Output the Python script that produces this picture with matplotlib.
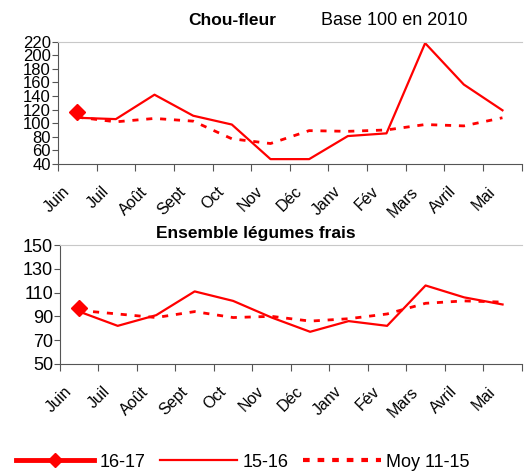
import matplotlib.pyplot as plt
import matplotlib.transforms as mtransforms
from matplotlib.lines import Line2D

plt.rcParams['font.family'] = ['Liberation Sans', 'DejaVu Sans']

months = ['Juin', 'Juil', 'Août', 'Sept', 'Oct', 'Nov', 'Déc', 'Janv', 'Fév', 'Mars', 'Avril', 'Mai']

# Chou-fleur
chou_1617 = [116]
chou_1516 = [108, 106, 142, 111, 98, 47, 47, 81, 85, 218, 157, 119]
chou_moy = [109, 102, 107, 103, 77, 70, 89, 88, 90, 98, 96, 108]

# Ensemble légumes frais
leg_1617 = [97]
leg_1516 = [94, 82, 91, 111, 103, 89, 77, 86, 82, 116, 106, 100]
leg_moy = [95, 92, 89, 94, 89, 90, 86, 88, 92, 101, 103, 102]

red = '#ff0000'
fig = plt.figure(figsize=(5.26, 4.75), dpi=100)


def draw(ax, v1617, v1516, vmoy, ylim, yticks, ysize):
    x = list(range(len(months)))
    ax.plot(x, vmoy, color=red, lw=2, ls=(0, (2.2, 2.8)))
    ax.plot(x, v1516, color=red, lw=1.6)
    ax.plot(x[:len(v1617)], v1617, color=red, lw=3, marker='D', ms=8)
    ax.set_xlim(-0.5, 11.5)
    ax.set_ylim(*ylim)
    ax.set_yticks(yticks)
    ax.set_xticks([i - 0.5 for i in range(13)])
    ax.set_xticklabels([])
    # month labels, a bit left of the category centre like the original
    off = mtransforms.ScaledTranslation(-15 / 100, -20 / 100, fig.dpi_scale_trans)
    for i, m in enumerate(months):
        ax.text(i, 0, m, transform=ax.get_xaxis_transform() + off,
                rotation=45, ha='right', va='top', rotation_mode='anchor',
                fontsize=11.5)
    ax.tick_params(axis='x', length=5, color='#555555')
    ax.tick_params(axis='y', length=4, color='#555555', labelsize=ysize, pad=1)
    ax.spines['right'].set_visible(False)
    ax.spines['top'].set_color('#c8c8c8')
    ax.spines['left'].set_color('#555555')
    ax.spines['bottom'].set_color('#555555')


ax1 = fig.add_axes([0.110, 0.655, 0.882, 0.257])
draw(ax1, chou_1617, chou_1516, chou_moy, (40, 220), range(40, 221, 20), 12)
fig.text(0.441, 0.957, 'Chou-fleur', ha='center', va='center', fontsize=12.5, fontweight='bold')
fig.text(0.750, 0.957, 'Base 100 en 2010', ha='center', va='center', fontsize=13)

ax2 = fig.add_axes([0.114, 0.234, 0.878, 0.250])
draw(ax2, leg_1617, leg_1516, leg_moy, (50, 150), range(50, 151, 20), 13)
fig.text(0.487, 0.509, 'Ensemble légumes frais', ha='center', va='center', fontsize=12.5, fontweight='bold')

handles = [
    Line2D([], [], color=red, lw=3.5, marker='D', ms=7),
    Line2D([], [], color=red, lw=1.6),
    Line2D([], [], color=red, lw=3, ls=(0, (1.6, 1.9))),
]
fig.legend(handles, ['16-17', '15-16', 'Moy 11-15'], loc='lower left',
           bbox_to_anchor=(0.0, -0.025), ncol=3, frameon=False, fontsize=13,
           handlelength=4.3, handletextpad=0.3, columnspacing=0.8)

fig.savefig('out.png', dpi=100)
